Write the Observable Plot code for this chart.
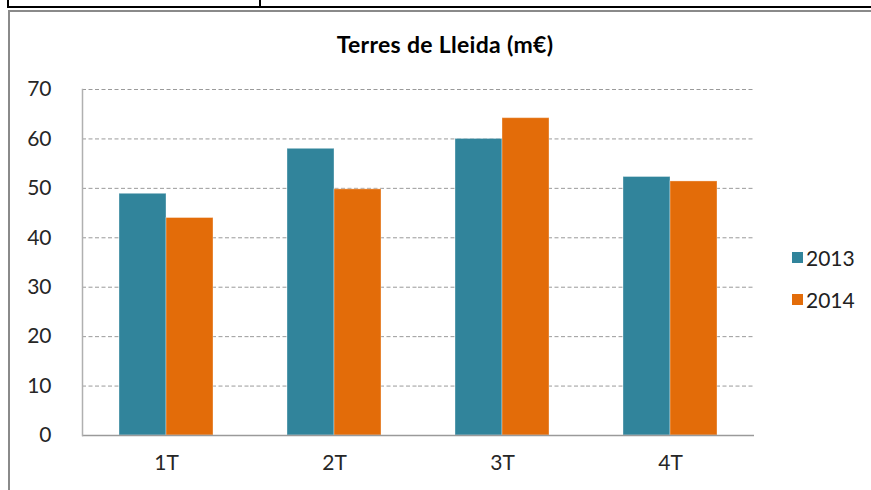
<!DOCTYPE html>
<html>
<head>
<meta charset="utf-8">
<script src="https://cdn.jsdelivr.net/npm/d3@7"></script>
<script src="https://cdn.jsdelivr.net/npm/@observablehq/plot@0.6"></script>
<style>
  body { margin: 0; background: #fff; }
  #wrap { position: relative; width: 871px; height: 490px; overflow: hidden; background: #fff; font-family: Lato, "Open Sans", sans-serif; }
  #wrap svg { position: absolute; left: 0; top: 0; }
  .tbl { position: absolute; left: 7px; top: -2px; width: 900px; height: 8px; border-left: 2px solid #000; border-bottom: 2px solid #000; }
  .tbl2 { position: absolute; left: 259px; top: 0; width: 0; height: 8px; border-left: 2px solid #000; }
  .frame { position: absolute; left: 8px; top: 10px; width: 900px; height: 500px; border-left: 2px solid #8a8a8a; border-top: 2px solid #8a8a8a; }
  .title { position: absolute; left: 0; width: 890px; top: 30px; text-align: center; font-weight: bold; font-size: 23px; letter-spacing: 0.3px; color: #000; }
  .legend { position: absolute; left: 792px; font-size: 21px; color: #222; }
  .legend .item { position: absolute; left: 0; white-space: nowrap; display: flex; align-items: center; height: 22px; }
  .legend .sw { display: inline-block; width: 11px; height: 11px; margin-right: 3px; }
</style>
</head>
<body>
<div id="wrap">
  <div class="tbl"></div>
  <div class="tbl2"></div>
  <div class="frame"></div>
  <div class="title">Terres de Lleida (m€)</div>
  <div class="legend" id="legend"></div>
</div>
<script>
const quarters = ["1T", "2T", "3T", "4T"];
const years = ["2013", "2014"];
const values2013 = [48.9, 58.0, 60.0, 52.3];
const values2014 = [44.0, 49.8, 64.2, 51.4];
const yTicks = [0, 10, 20, 30, 40, 50, 60, 70];
const gridTicks = [10, 20, 30, 40, 50, 60, 70];
const colors = ["#31849B", "#E36C09"];

const data = [];
quarters.forEach((q, i) => {
  data.push({quarter: q, year: years[0], value: values2013[i]});
  data.push({quarter: q, year: years[1], value: values2014[i]});
});

const chart = Plot.plot({
  width: 871,
  height: 490,
  marginLeft: 81,
  marginRight: 116,
  marginTop: 89,
  marginBottom: 55,
  style: {background: "transparent", fontFamily: "Lato, 'Open Sans', sans-serif", fontSize: "21px", color: "#262626"},
  fx: {domain: quarters, padding: 0, label: null, tickSize: 0, tickPadding: 20, axis: "bottom"},
  x: {domain: years, paddingInner: 0, paddingOuter: 0.757, axis: null},
  y: {domain: [0, 70], ticks: yTicks, tickSize: 0, tickPadding: 31, label: null},
  color: {domain: years, range: colors},
  marks: [
    Plot.ruleY(gridTicks, {stroke: "#9a9a9a", strokeDasharray: "4,2.5", strokeWidth: 1}),
    Plot.barY(data, {fx: "quarter", x: "year", y: "value", fill: "year", stroke: "#ffffff", strokeOpacity: 0.35, strokeWidth: 1}),
    Plot.ruleY([0], {stroke: "#9a9a9a", strokeWidth: 1.5}),
    Plot.frame({anchor: "left", facetAnchor: "left", stroke: "#b0b0b0", strokeWidth: 1.5})
  ]
});
document.getElementById("wrap").prepend(chart);

const legend = document.getElementById("legend");
years.forEach((y, i) => {
  const item = document.createElement("div");
  item.className = "item";
  item.style.top = (246 + i * 42) + "px";
  const sw = document.createElement("span");
  sw.className = "sw";
  sw.style.background = colors[i];
  item.appendChild(sw);
  item.appendChild(document.createTextNode(y));
  legend.appendChild(item);
});
</script>
</body>
</html>
